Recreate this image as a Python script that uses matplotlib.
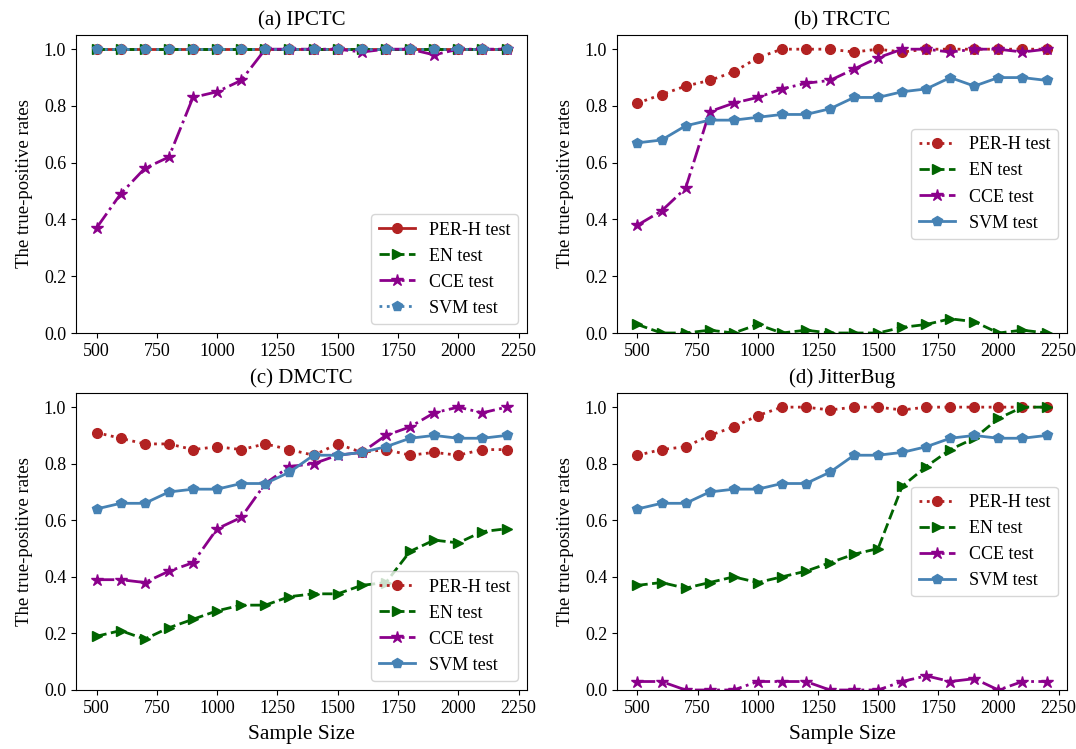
import matplotlib
matplotlib.use("Agg")
import matplotlib.pyplot as plt

plt.rcParams['font.family'] = ['Liberation Serif', 'DejaVu Serif']

sample_sizes = [500, 600, 700, 800, 900, 1000, 1100, 1200, 1300, 1400,
                1500, 1600, 1700, 1800, 1900, 2000, 2100, 2200]

titles = ["(a) IPCTC", "(b) TRCTC", "(c) DMCTC", "(d) JitterBug"]
labels = ["PER-H test", "EN test", "CCE test", "SVM test"]

# (a) IPCTC
a_per = [1.0] * 18
a_en = [1.0] * 18
a_cce = [0.37, 0.49, 0.58, 0.62, 0.83, 0.85, 0.89, 1.0, 1.0, 1.0,
         1.0, 0.99, 1.0, 1.0, 0.98, 1.0, 1.0, 1.0]
a_svm = [1.0] * 18

# (b) TRCTC
b_per = [0.81, 0.84, 0.87, 0.89, 0.92, 0.97, 1.0, 1.0, 1.0, 0.99,
         1.0, 0.99, 1.0, 1.0, 1.0, 1.0, 1.0, 1.0]
b_en = [0.03, 0.0, 0.0, 0.01, 0.0, 0.03, 0.0, 0.01, 0.0, 0.0,
        0.0, 0.02, 0.03, 0.05, 0.04, 0.0, 0.01, 0.0]
b_cce = [0.38, 0.43, 0.51, 0.78, 0.81, 0.83, 0.86, 0.88, 0.89, 0.93,
         0.97, 1.0, 1.0, 0.99, 1.0, 1.0, 0.99, 1.0]
b_svm = [0.67, 0.68, 0.73, 0.75, 0.75, 0.76, 0.77, 0.77, 0.79, 0.83,
         0.83, 0.85, 0.86, 0.90, 0.87, 0.90, 0.90, 0.89]

# (c) DMCTC
c_per = [0.91, 0.89, 0.87, 0.87, 0.85, 0.86, 0.85, 0.87, 0.85, 0.83,
         0.87, 0.84, 0.85, 0.83, 0.84, 0.83, 0.85, 0.85]
c_en = [0.19, 0.21, 0.18, 0.22, 0.25, 0.28, 0.30, 0.30, 0.33, 0.34,
        0.34, 0.37, 0.38, 0.49, 0.53, 0.52, 0.56, 0.57]
c_cce = [0.39, 0.39, 0.38, 0.42, 0.45, 0.57, 0.61, 0.73, 0.79, 0.80,
         0.83, 0.84, 0.90, 0.93, 0.98, 1.0, 0.98, 1.0]
c_svm = [0.64, 0.66, 0.66, 0.70, 0.71, 0.71, 0.73, 0.73, 0.77, 0.83,
         0.83, 0.84, 0.86, 0.89, 0.90, 0.89, 0.89, 0.90]

# (d) JitterBug
d_per = [0.83, 0.85, 0.86, 0.90, 0.93, 0.97, 1.0, 1.0, 0.99, 1.0,
         1.0, 0.99, 1.0, 1.0, 1.0, 1.0, 1.0, 1.0]
d_en = [0.37, 0.38, 0.36, 0.38, 0.40, 0.38, 0.40, 0.42, 0.45, 0.48,
        0.50, 0.72, 0.79, 0.85, 0.89, 0.96, 1.0, 1.0]
d_cce = [0.03, 0.03, 0.0, 0.0, 0.0, 0.03, 0.03, 0.03, 0.0, 0.0,
         0.0, 0.03, 0.05, 0.03, 0.04, 0.0, 0.03, 0.03]
d_svm = [0.64, 0.66, 0.66, 0.70, 0.71, 0.71, 0.73, 0.73, 0.77, 0.83,
         0.83, 0.84, 0.86, 0.89, 0.90, 0.89, 0.89, 0.90]

panels = [
    (a_per, a_en, a_cce, a_svm),
    (b_per, b_en, b_cce, b_svm),
    (c_per, c_en, c_cce, c_svm),
    (d_per, d_en, d_cce, d_svm),
]

colors = ["#b22222", "#006400", "#8b008b", "#4682b4"]
markers = ["o", ">", "*", "p"]
marker_sizes = [7, 7, 9, 7.5]
styles_a = ["-", "--", "-.", ":"]
styles_other = [":", "--", "-.", "-"]

W, H = 1076, 749
fig = plt.figure(figsize=(W / 100, H / 100), dpi=100)

boxes = [
    (76, 35, 527, 333),
    (617, 35, 1067, 333),
    (76, 393, 527, 690),
    (617, 393, 1067, 690),
]
legend_locs = ["lower right", "center right", "lower right", "center right"]

for i, (box, series) in enumerate(zip(boxes, panels)):
    x0, y0, x1, y1 = box
    ax = fig.add_axes([x0 / W, 1 - y1 / H, (x1 - x0) / W, (y1 - y0) / H])
    styles = styles_a if i == 0 else styles_other
    for vals, lab, col, mk, ms, ls in zip(series, labels, colors, markers,
                                          marker_sizes, styles):
        ax.plot(sample_sizes, vals, linestyle=ls, marker=mk, color=col,
                label=lab, linewidth=2, markersize=ms)
    ax.set_ylim(0, 1.05)
    ax.set_xticks([500, 750, 1000, 1250, 1500, 1750, 2000, 2250])
    ax.set_yticks([0.0, 0.2, 0.4, 0.6, 0.8, 1.0])
    ax.tick_params(labelsize=13)
    ax.set_title(titles[i], fontsize=15, pad=7)
    ax.set_ylabel("The true-positive rates", fontsize=13.5, labelpad=8)
    if i >= 2:
        ax.set_xlabel("Sample Size", fontsize=15.5, labelpad=6)
    ax.legend(loc=legend_locs[i], fontsize=13)

fig.savefig("out.png", dpi=100)
